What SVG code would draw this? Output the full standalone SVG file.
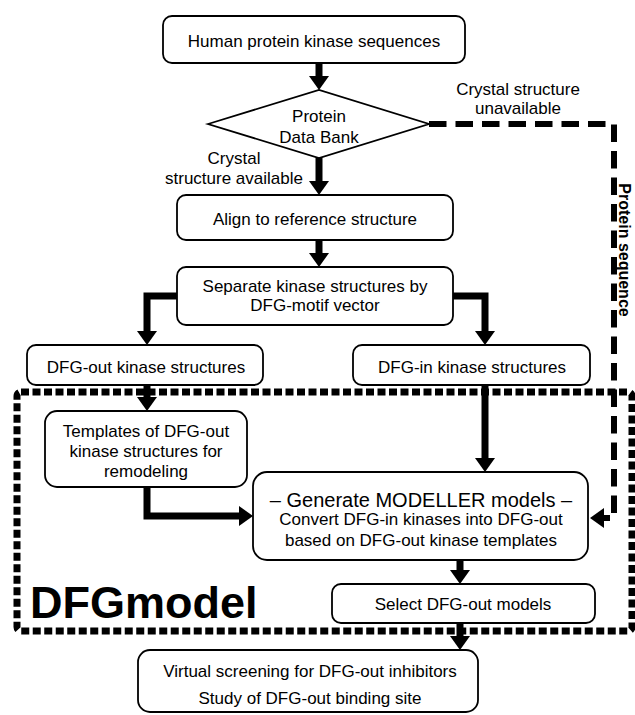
<svg xmlns="http://www.w3.org/2000/svg" width="635" height="715" viewBox="0 0 635 715">
<style>
  .box { fill: #ffffff; stroke: #000000; stroke-width: 1.8; }
  .t { font-family: "Liberation Sans", Arial, sans-serif; font-size: 17px; fill: #000000; text-anchor: middle; }
  .title { font-size: 20px; }
  .conn { fill: none; stroke: #000000; stroke-width: 7; stroke-linejoin: miter; }
  .dash { fill: none; stroke: #000000; stroke-width: 6; stroke-dasharray: 17.5 9; stroke-linejoin: round; }
  .dots { fill: none; stroke: #000000; stroke-width: 7; stroke-dasharray: 8 3.5; }
  .big { font-family: "Liberation Sans", Arial, sans-serif; font-weight: bold; fill: #000000; }
</style>
<defs>
  <marker id="ah" viewBox="0 0 14 20" markerWidth="14" markerHeight="20" markerUnits="userSpaceOnUse" refX="1" refY="10" orient="auto">
    <path d="M0,0 L14,10 L0,20 Z" fill="#000000"/>
  </marker>
</defs>

<g id="dfgmodel-region">
  <rect class="dots" x="17" y="392" width="615" height="239" rx="4"/>
  <text class="big" x="30" y="618" font-size="45">DFGmodel</text>
</g>

<g id="n-human">
  <rect class="box" x="163" y="16" width="302" height="47" rx="9"/>
  <text class="t" x="314" y="47">Human protein kinase sequences</text>
</g>

<g id="n-pdb">
  <polygon class="box" points="208,124 319,90 429,124 319,158" stroke-width="1.5"/>
  <text class="t" x="319" y="122">Protein</text>
  <text class="t" x="319" y="143">Data Bank</text>
</g>

<g id="n-align">
  <rect class="box" x="177" y="195" width="276" height="45" rx="9"/>
  <text class="t" x="315" y="225">Align to reference structure</text>
</g>

<g id="n-separate">
  <rect class="box" x="177" y="267" width="276" height="58" rx="9"/>
  <text class="t" x="315" y="292">Separate kinase structures by</text>
  <text class="t" x="315" y="311">DFG-motif vector</text>
</g>

<g id="n-dfgout">
  <rect class="box" x="27" y="345" width="236" height="40" rx="9"/>
  <text class="t" x="146" y="373">DFG-out kinase structures</text>
</g>

<g id="n-dfgin">
  <rect class="box" x="353" y="345" width="237" height="40" rx="9"/>
  <text class="t" x="472" y="373">DFG-in kinase structures</text>
</g>

<g id="n-templates">
  <rect class="box" x="45" y="411" width="202" height="76" rx="12"/>
  <text class="t" x="146" y="437">Templates of DFG-out</text>
  <text class="t" x="146" y="457">kinase structures for</text>
  <text class="t" x="146" y="477">remodeling</text>
</g>

<g id="n-generate">
  <rect class="box" x="253" y="472" width="335" height="88" rx="14"/>
  <text class="t title" x="421" y="507">– Generate MODELLER models –</text>
  <text class="t" x="421" y="525">Convert DFG-in kinases into DFG-out</text>
  <text class="t" x="421" y="546">based on DFG-out kinase templates</text>
</g>

<g id="n-select">
  <rect class="box" x="332" y="584" width="263" height="39" rx="9"/>
  <text class="t" x="463" y="610">Select DFG-out models</text>
</g>

<g id="n-virtual">
  <rect class="box" x="138" y="650" width="340" height="62" rx="12"/>
  <text class="t" x="310" y="677">Virtual screening for DFG-out inhibitors</text>
  <text class="t" x="310" y="704">Study of DFG-out binding site</text>
</g>

<g id="connectors">
  <line class="conn" x1="319" y1="63" x2="319" y2="77" marker-end="url(#ah)"/>
  <line class="conn" x1="319" y1="158" x2="319" y2="182" marker-end="url(#ah)"/>
  <line class="conn" x1="319" y1="240" x2="319" y2="254" marker-end="url(#ah)"/>
  <path class="conn" d="M177,296 H147 V332" marker-end="url(#ah)"/>
  <path class="conn" d="M453,296 H485 V332" marker-end="url(#ah)"/>
  <line class="conn" x1="147" y1="385" x2="147" y2="398" marker-end="url(#ah)"/>
  <line class="conn" x1="485" y1="385" x2="485" y2="459" marker-end="url(#ah)"/>
  <path class="conn" d="M147,487 V516 H240" marker-end="url(#ah)"/>
  <line class="conn" x1="460" y1="560" x2="460" y2="571" marker-end="url(#ah)"/>
  <line class="conn" x1="460" y1="623" x2="460" y2="637" marker-end="url(#ah)"/>
  <path class="dash" d="M429,124 H614 V518 H603" marker-end="url(#ah)"/>
</g>

<g id="labels">
  <text class="t" x="518" y="95">Crystal structure</text>
  <text class="t" x="518" y="114">unavailable</text>
  <text class="t" x="234" y="164">Crystal</text>
  <text class="t" x="234" y="184">structure available</text>
  <text class="big" font-size="16" text-anchor="middle" transform="translate(618.5,250) rotate(90)">Protein sequence</text>
</g>
</svg>
